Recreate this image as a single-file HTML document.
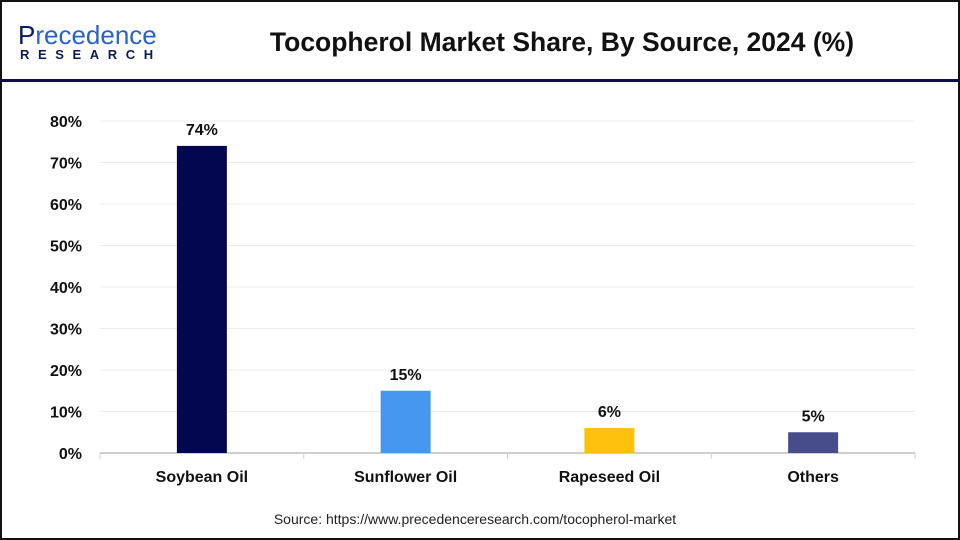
<!DOCTYPE html>
<html><head><meta charset="utf-8"><style>
body{margin:0;width:960px;height:540px;background:#fff;overflow:hidden;font-family:"Liberation Sans",Arial,sans-serif}
#frame{position:absolute;left:0;top:0;width:956px;height:536px;border:2px solid #111}
#hdr-line{position:absolute;left:0;top:79px;width:960px;height:3px;background:#0b1240}
#title{position:absolute;left:212px;width:700px;top:27px;text-align:center;font-weight:bold;font-size:26.5px;color:#111}
#logo1{position:absolute;left:18px;top:20px;font-size:26px;color:#0b1a5e}
#logo1 span{color:#2a63c9}
#logo2{position:absolute;left:20px;top:47px;font-size:13px;font-weight:bold;letter-spacing:8.6px;color:#0b1a5e}
#src{position:absolute;left:0;width:950px;top:511px;text-align:center;font-size:14px;color:#222}
</style></head><body>
<div id="frame"></div>
<div id="logo1">P<span>recedence</span></div>
<div id="logo2">RESEARCH</div>
<div id="title">Tocopherol Market Share, By Source, 2024 (%)</div>
<div id="hdr-line"></div>
<svg id="chart" width="960" height="540" style="position:absolute;left:0;top:0"></svg>
<div id="src">Source: https://www.precedenceresearch.com/tocopherol-market</div>
<script>
const categories=["Soybean Oil","Sunflower Oil","Rapeseed Oil","Others"];
const values=[74,15,6,5];
const colors=["#03074f","#4597ef","#fdc00d","#474d8a"];
const ticks=[0,10,20,30,40,50,60,70,80];
const svg=document.getElementById('chart');
const NS="http://www.w3.org/2000/svg";
const x0=100,x1=915,yBase=453,yTop=121,vMax=80;
const y=v=>yBase-(yBase-yTop)*v/vMax;
const band=(x1-x0)/categories.length;
const xc=i=>x0+band*(i+0.5);
function mk(t,a){const e=document.createElementNS(NS,t);for(const k in a)e.setAttribute(k,a[k]);svg.appendChild(e);return e;}
ticks.forEach(t=>{
 if(t>0){const g=mk('line',{x1:x0,x2:x1,y1:y(t),y2:y(t),stroke:'#ececec','stroke-width':1});
 
 }
 const l=mk('text',{x:82,y:y(t)+6,'text-anchor':'end','font-size':16,'font-weight':'bold',fill:'#111'});
 l.textContent=t+'%';
 
 
});
const ax=mk('line',{x1:x0,x2:x1,y1:yBase,y2:yBase,stroke:'#bfbfbf','stroke-width':1.5});


for(let i=0;i<=categories.length;i++){const tk=mk('line',{x1:x0+band*i,x2:x0+band*i,y1:yBase,y2:yBase+6,stroke:'#d0d0d0'});
 
 }
categories.forEach((c,i)=>{
 const bw=50;
 const r=mk('rect',{x:xc(i)-bw/2,y:y(values[i]),width:bw,height:yBase-y(values[i]),fill:colors[i]});
 
 
 const v=mk('text',{x:xc(i),y:y(values[i])-11,'text-anchor':'middle','font-size':16,'font-weight':'bold',fill:'#111'});
 v.textContent=values[i]+'%';
 
 
 const cl=mk('text',{x:xc(i),y:482,'text-anchor':'middle','font-size':16,'font-weight':'bold',fill:'#111'});
 cl.textContent=c;
 
 
});
</script>
</body></html>
